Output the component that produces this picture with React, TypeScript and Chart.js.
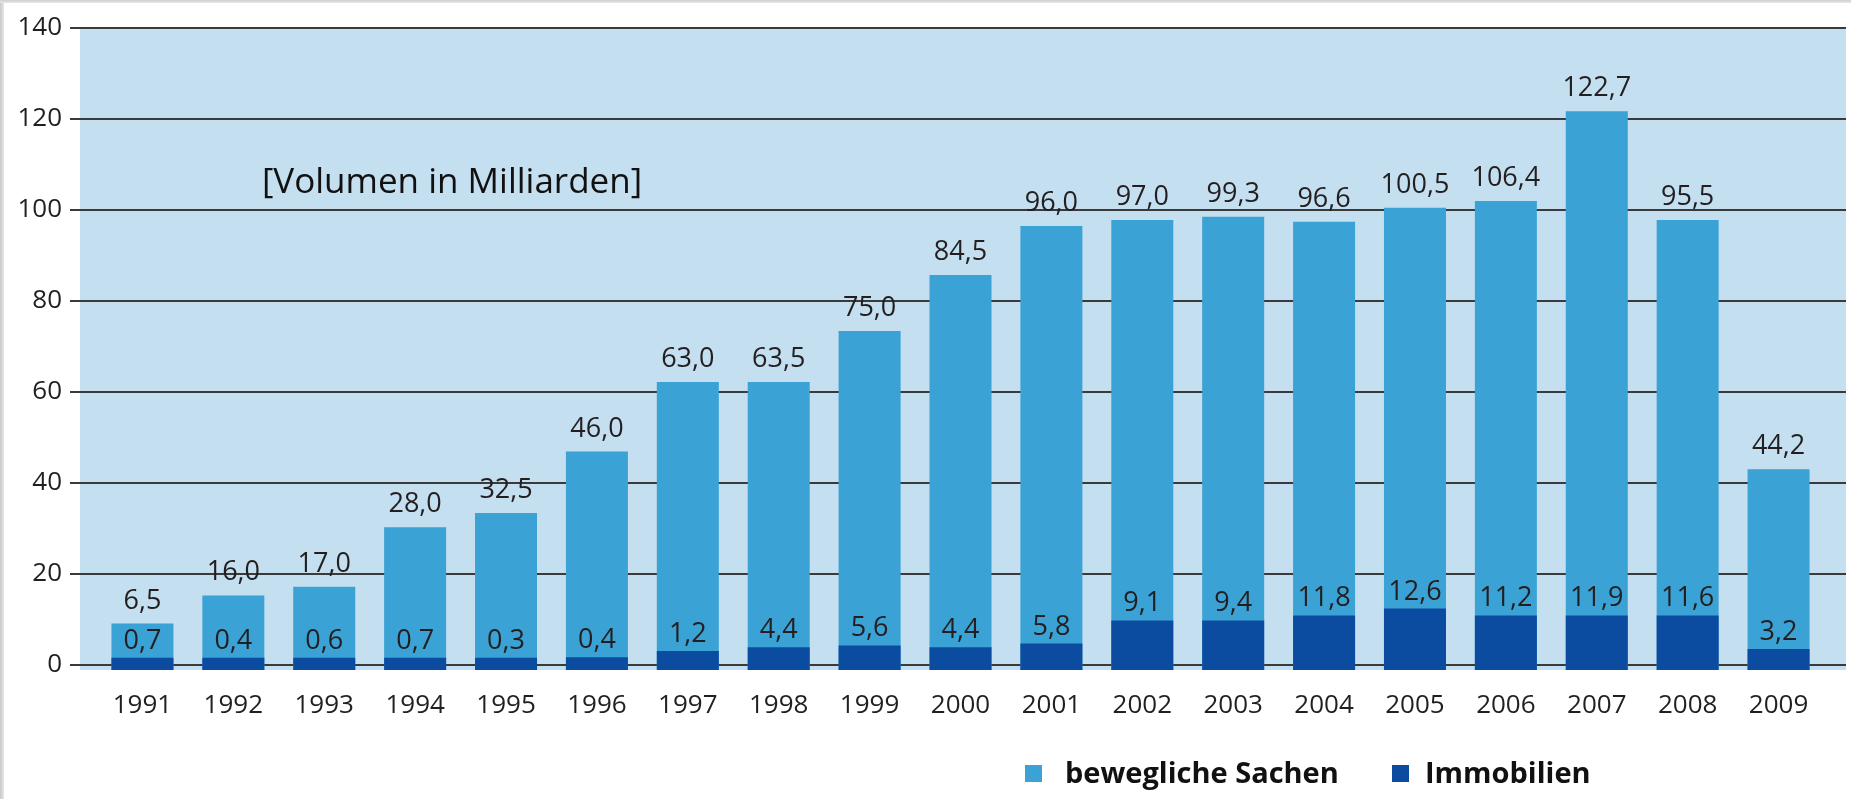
import React, { useEffect, useRef } from "react";
import { Chart, registerables } from "chart.js";

Chart.register(...registerables);

// ---- data ----
const years = ["1991", "1992", "1993", "1994", "1995", "1996", "1997", "1998", "1999", "2000", "2001", "2002", "2003", "2004", "2005", "2006", "2007", "2008", "2009"];
// bar heights as drawn in the picture
const beweglicheHeights = [9.1, 15.3, 17.2, 30.3, 33.4, 46.9, 62.2, 62.2, 73.4, 85.7, 96.5, 97.8, 98.5, 97.4, 100.5, 102.0, 121.7, 97.8, 43.0];
const immobilienHeights = [1.6, 1.6, 1.6, 1.6, 1.6, 1.7, 3.1, 3.9, 4.3, 3.9, 4.7, 9.8, 9.8, 10.9, 12.4, 10.9, 10.9, 10.9, 3.5];
// printed value labels
const beweglicheLabels = ["6,5", "16,0", "17,0", "28,0", "32,5", "46,0", "63,0", "63,5", "75,0", "84,5", "96,0", "97,0", "99,3", "96,6", "100,5", "106,4", "122,7", "95,5", "44,2"];
const immobilienLabels = ["0,7", "0,4", "0,6", "0,7", "0,3", "0,4", "1,2", "4,4", "5,6", "4,4", "5,8", "9,1", "9,4", "11,8", "12,6", "11,2", "11,9", "11,6", "3,2"];
const yTickValues = [0, 20, 40, 60, 80, 100, 120, 140];
const seriesNames = ["bewegliche Sachen", "Immobilien"];
const unitNote = "[Volumen in Milliarden]";

// ---- styles ----
const LIGHT = "#3aa2d4";
const DARK = "#0c4ca0";
const BG = "#c4dff0";
const GRID = "#3a3a3a";
const TEXT = "#231f20";
const FONT = "'Open Sans', 'Noto Sans', sans-serif";
const Y_MIN = -1.1;
const Y_MAX = 140;

const decorPlugin = {
  id: "decor",
  beforeDatasetsDraw(chart: any) {
    const { ctx, chartArea, scales } = chart;
    const y = scales.y;
    ctx.save();
    ctx.fillStyle = BG;
    ctx.fillRect(80, chartArea.top, 1846 - 80, chartArea.bottom - chartArea.top);
    ctx.strokeStyle = GRID;
    ctx.lineWidth = 2;
    yTickValues.forEach((v) => {
      const py = Math.round(y.getPixelForValue(v));
      ctx.beginPath();
      ctx.moveTo(70, py);
      ctx.lineTo(1846, py);
      ctx.stroke();
    });
    ctx.restore();
  },
  afterDatasetsDraw(chart: any) {
    const { ctx } = chart;
    const lightMeta = chart.getDatasetMeta(0);
    const darkMeta = chart.getDatasetMeta(1);
    ctx.save();
    ctx.fillStyle = TEXT;
    ctx.textAlign = "center";
    ctx.textBaseline = "alphabetic";
    ctx.font = `27px ${FONT}`;
    years.forEach((_, i) => {
      const lb = lightMeta.data[i];
      const db = darkMeta.data[i];
      ctx.fillText(beweglicheLabels[i], lb.x, lb.y - 15);
      ctx.fillText(immobilienLabels[i], db.x, db.y - 9);
    });
    // unit note
    ctx.fillStyle = "#111111";
    ctx.font = `35px ${FONT}`;
    ctx.fillText(unitNote, 452, 193);
    // legend
    const colors = [LIGHT, DARK];
    const squareX = [1025, 1392];
    const textX = [1065, 1425];
    ctx.textAlign = "left";
    ctx.font = `bold 29px ${FONT}`;
    seriesNames.forEach((name, i) => {
      ctx.fillStyle = colors[i];
      ctx.fillRect(squareX[i], 765, 17, 17);
      ctx.fillStyle = "#111111";
      ctx.fillText(name, textX[i], 783);
    });
    ctx.restore();
  },
};

export default function App() {
  const ref = useRef<HTMLCanvasElement>(null);
  useEffect(() => {
    if (!ref.current) return;
    const chart = new Chart(ref.current, {
      type: "bar",
      data: {
        labels: years,
        datasets: [
          {
            label: seriesNames[0],
            data: beweglicheHeights,
            backgroundColor: LIGHT,
            borderWidth: 0,
            base: Y_MIN,
            order: 1,
          } as any,
          {
            label: seriesNames[1],
            data: immobilienHeights,
            backgroundColor: DARK,
            borderWidth: 0,
            base: Y_MIN,
            order: 0,
          } as any,
        ],
      },
      options: {
        responsive: false,
        devicePixelRatio: 1,
        animation: false,
        layout: { padding: { left: 0, right: 27, top: 28, bottom: 0 } },
        datasets: { bar: { barPercentage: 0.682, categoryPercentage: 1 } },
        plugins: {
          legend: { display: false },
          tooltip: { enabled: false },
          title: { display: false },
        },
        scales: {
          x: {
            type: "category",
            stacked: true,
            grid: { display: false, drawTicks: false },
            border: { display: false },
            ticks: { color: TEXT, font: { family: FONT, size: 26 }, padding: 20, maxRotation: 0, autoSkip: false },
            afterFit: (s: any) => {
              s.height = 129;
              s.paddingLeft = 0;
              s.paddingRight = 0;
            },
          },
          y: {
            type: "linear",
            stacked: false,
            min: Y_MIN,
            max: Y_MAX,
            grid: { display: false, drawTicks: false },
            border: { display: false },
            ticks: { color: TEXT, font: { family: FONT, size: 26 }, padding: 35 },
            afterBuildTicks: (s: any) => {
              s.ticks = yTickValues.map((v) => ({ value: v }));
            },
            afterFit: (s: any) => {
              s.width = 97;
              s.paddingTop = 0;
              s.paddingBottom = 0;
            },
          },
        },
      },
      plugins: [decorPlugin],
    });
    return () => chart.destroy();
  }, []);

  return (
    <div style={{ position: "fixed", left: 0, top: 0, width: 1851, height: 799, background: "#ffffff", overflow: "hidden" }}>
      <canvas ref={ref} width={1851} height={799} style={{ display: "block" }} />
      <div style={{ position: "absolute", left: 0, top: 0, width: 4, height: 799, background: "linear-gradient(to right, #c9c9c9, #e6e6e6)" }} />
      <div style={{ position: "absolute", left: 0, top: 0, width: 1851, height: 3, background: "linear-gradient(to bottom, #cfcfcf, #e8e8e8)" }} />
    </div>
  );
}
